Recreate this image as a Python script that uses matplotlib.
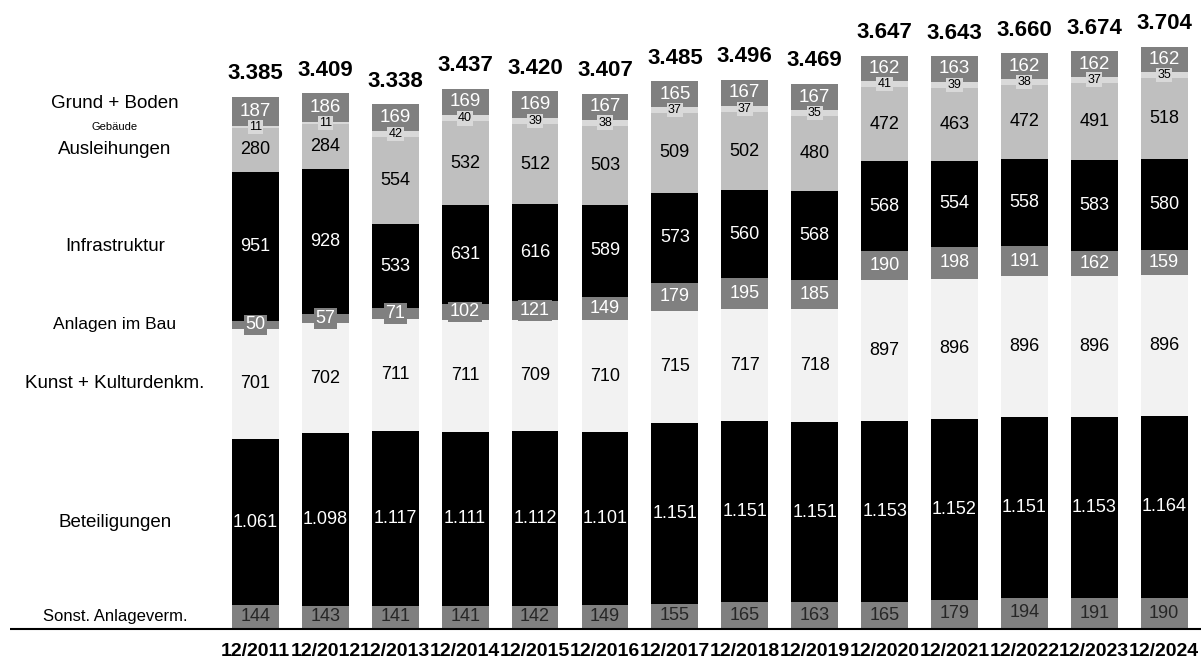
import matplotlib
matplotlib.use("Agg")
import matplotlib.pyplot as plt
import numpy as np

plt.rcParams['font.family'] = ['Liberation Sans', 'DejaVu Sans']

years = ["12/2011", "12/2012", "12/2013", "12/2014", "12/2015", "12/2016", "12/2017",
         "12/2018", "12/2019", "12/2020", "12/2021", "12/2022", "12/2023", "12/2024"]

sonst        = [144, 143, 141, 141, 142, 149, 155, 165, 163, 165, 179, 194, 191, 190]
beteiligung  = [1061, 1098, 1117, 1111, 1112, 1101, 1151, 1151, 1151, 1153, 1152, 1151, 1153, 1164]
kunst        = [701, 702, 711, 711, 709, 710, 715, 717, 718, 897, 896, 896, 896, 896]
anlagen_bau  = [50, 57, 71, 102, 121, 149, 179, 195, 185, 190, 198, 191, 162, 159]
infrastruktur = [951, 928, 533, 631, 616, 589, 573, 560, 568, 568, 554, 558, 583, 580]
ausleihungen = [280, 284, 554, 532, 512, 503, 509, 502, 480, 472, 463, 472, 491, 518]
gebaeude     = [11, 11, 42, 40, 39, 38, 37, 37, 35, 41, 39, 38, 37, 35]
grund_boden  = [187, 186, 169, 169, 169, 167, 165, 167, 167, 162, 163, 162, 162, 162]
totals       = [3385, 3409, 3338, 3437, 3420, 3407, 3485, 3496, 3469, 3647, 3643, 3660, 3674, 3704]

series_names = ["Sonst. Anlageverm.", "Beteiligungen", "Kunst + Kulturdenkm.", "Anlagen im Bau",
                "Infrastruktur", "Ausleihungen", "Gebäude", "Grund + Boden"]
series = [sonst, beteiligung, kunst, anlagen_bau, infrastruktur, ausleihungen, gebaeude, grund_boden]
colors = ["#808080", "#000000", "#f2f2f2", "#808080", "#000000", "#bfbfbf", "#d9d9d9", "#808080"]
text_colors = ["#262626", "white", "black", "white", "white", "black", "black", "white"]
boxed = [False, False, False, True, False, False, True, False]
label_sizes = [13, 13, 13, 13, 13, 13, 9, 13.5]
name_sizes = [12, 13.5, 13.5, 12.5, 13.5, 13.5, 8, 13.5]

def de(v):
    return f"{v:,}".replace(",", ".")

fig = plt.figure(figsize=(12.01, 6.60), dpi=100)
ax = fig.add_axes([0, 0, 1, 1])
ax.set_xlim(-3.655, 13.527)
ax.set_ylim(-204, 4002)
ax.axis('off')

x = np.arange(len(years))
width = 0.67
bottom = np.zeros(len(years))
centers = []
for i, (vals, col) in enumerate(zip(series, colors)):
    vals = np.array(vals, dtype=float)
    ax.bar(x, vals, width, bottom=bottom, color=col, edgecolor='none', zorder=2)
    c = bottom + vals / 2
    centers.append(c)
    bottom = bottom + vals

# value labels (boxed ones drawn last on top)
order = [0, 1, 2, 4, 5, 7, 3, 6]
for i in order:
    vals = series[i]
    for j in range(len(years)):
        kw = {}
        if boxed[i]:
            kw['bbox'] = dict(boxstyle='square,pad=0.1', fc=colors[i], ec='none')
        ax.text(x[j], centers[i][j], de(vals[j]), ha='center', va='center',
                fontsize=label_sizes[i], color=text_colors[i], zorder=5 if boxed[i] else 4, **kw)

# totals
for j in range(len(years)):
    ax.annotate(de(totals[j]), (x[j], bottom[j]), xytext=(0, 9), textcoords='offset points',
                ha='center', va='bottom', fontsize=16, fontweight='bold', color='black')

# category names at left
for i, name in enumerate(series_names):
    dy = 6 if name == "Grund + Boden" else 0
    ax.annotate(name, (-2.01, centers[i][0]), xytext=(0, dy), textcoords='offset points',
                ha='center', va='center', fontsize=name_sizes[i], color='black')

# baseline
ax.plot([-3.51, 13.527], [-6, -6], color='black', linewidth=1.5, zorder=3, solid_capstyle='butt')

# x labels
for j, lab in enumerate(years):
    ax.text(x[j], -150, lab, ha='center', va='center', fontsize=14, fontweight='bold', color='black')

fig.savefig("out.png", dpi=100)
